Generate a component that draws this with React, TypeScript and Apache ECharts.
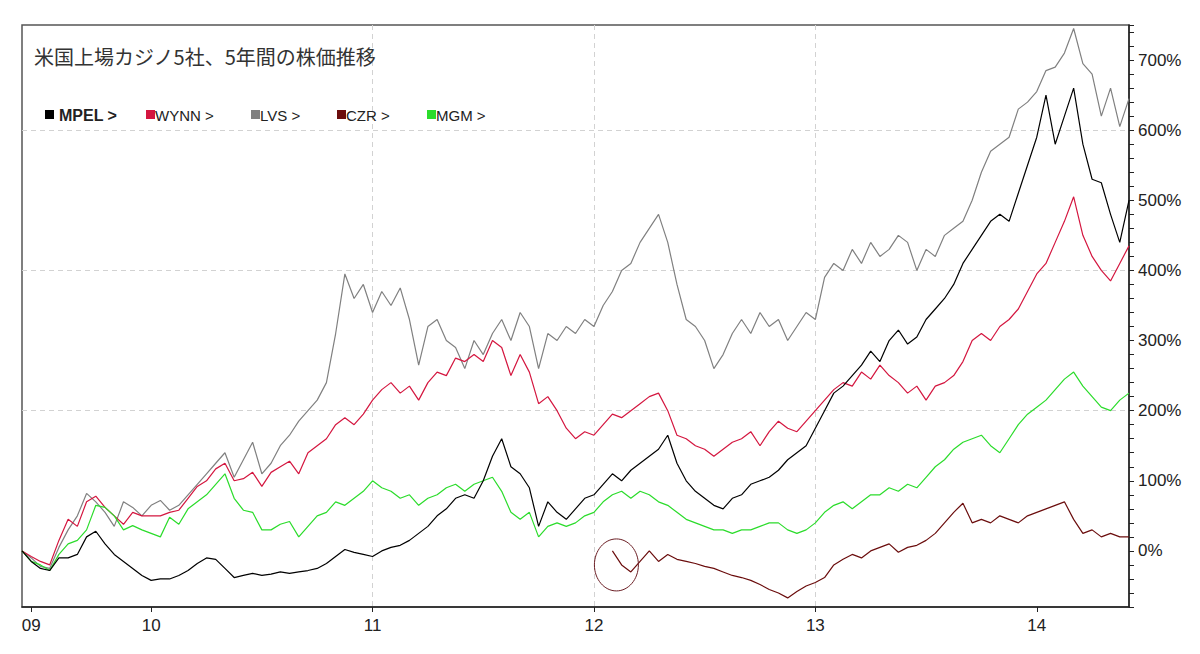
import React, { useEffect, useRef } from "react";
import * as echarts from "echarts";

// ---------- axis categories (half-month grid, Jun 2009 – Jun 2014) ----------
const DATES: string[] = [];
for (let y = 2009; y <= 2014; y++) {
  for (let m = 1; m <= 12; m++) {
    for (const d of ["01", "16"]) {
      const s = `${y}/${String(m).padStart(2, "0")}/${d}`;
      if (s >= "2009/06/01" && s <= "2014/06/01") DATES.push(s);
    }
  }
}

const TITLE = "米国上場カジノ5社、5年間の株価推移";
const TICK_DATES = ["2009/06/16", "2010/01/01", "2011/01/01", "2012/01/01", "2013/01/01", "2014/01/01"];
const TICK_LABELS = ["09", "10", "11", "12", "13", "14"];
const GRID_DATES = ["2011/01/01", "2012/01/01", "2013/01/01"];

const Y_MIN = -80;
const Y_MAX = 750;
const Y_STEP = 20;
const Y_GRID = [200, 400, 600];

// ---------- series values (% change) ----------
const MPEL = [
  0, -15, -25, -28, -10, -10, -5, 20, 28, 10,
  -5, -15, -25, -35, -42, -40, -40, -35, -28, -18,
  -10, -12, -25, -38, -35, -32, -35, -33, -30, -32,
  -30, -28, -25, -18, -8, 2, -2, -5, -8, 0,
  5, 8, 15, 25, 35, 50, 60, 75, 80, 75,
  100, 135, 160, 120, 110, 90, 35, 70, 55, 45,
  60, 75, 80, 95, 110, 100, 115, 125, 135, 145,
  165, 125, 100, 85, 75, 65, 60, 75, 80, 95,
  100, 105, 115, 130, 140, 150, 175, 200, 225, 235,
  250, 265, 285, 270, 300, 315, 295, 305, 330, 345,
  360, 380, 410, 430, 450, 470, 480, 470, 510, 550,
  590, 650, 580, 620, 660, 580, 530, 525, 480, 440,
  500,
];

const WYNN = [
  0, -8, -15, -20, 15, 45, 35, 70, 78, 62,
  50, 38, 55, 50, 50, 50, 55, 58, 75, 92,
  100, 117, 125, 100, 103, 112, 92, 112, 120, 128,
  110, 140, 150, 160, 180, 190, 180, 195, 215, 230,
  240, 225, 235, 215, 240, 255, 250, 275, 270, 280,
  270, 300, 290, 250, 280, 255, 210, 220, 200, 175,
  160, 170, 165, 180, 195, 190, 200, 210, 220, 225,
  200, 165, 160, 150, 145, 135, 145, 155, 160, 170,
  150, 170, 185, 175, 170, 185, 200, 215, 230, 240,
  235, 255, 245, 265, 250, 240, 225, 235, 215, 235,
  240, 250, 270, 300, 310, 300, 320, 330, 345, 370,
  395, 410, 440, 470, 505, 450, 420, 400, 385, 410,
  435,
];

const LVS = [
  0, -10, -22, -25, 5, 30, 50, 82, 70, 55,
  35, 70, 62, 50, 65, 72, 58, 65, 80, 95,
  110, 125, 140, 105, 130, 155, 110, 125, 150, 165,
  185, 200, 215, 240, 310, 395, 360, 380, 340, 370,
  350, 375, 330, 265, 320, 330, 300, 290, 260, 300,
  280, 310, 330, 300, 340, 320, 260, 310, 300, 320,
  310, 330, 320, 350, 370, 400, 410, 440, 460, 480,
  440, 380, 330, 320, 300, 260, 280, 310, 330, 310,
  340, 320, 330, 300, 320, 340, 330, 390, 410, 400,
  430, 410, 440, 420, 430, 450, 440, 400, 430, 420,
  450, 460, 470, 500, 540, 570, 580, 590, 630, 640,
  655, 685, 690, 710, 745, 695, 680, 620, 660, 605,
  645,
];

const CZR_START = "2012/02/01";
const CZR = [
  0, -20, -30, -15, 0, -15, -5, -12, -15, -18,
  -22, -25, -30, -35, -38, -42, -48, -55, -60, -67,
  -58, -50, -45, -38, -20, -12, -5, -10, 0, 5,
  10, -2, 5, 8, 15, 25, 40, 55, 68, 40,
  45, 40, 50, 45, 40, 50, 55, 60, 65, 70,
  45, 25, 30, 20, 25, 20, 20,
];

const MGM = [
  0, -15, -20, -28, -5, 10, 15, 30, 65, 62,
  50, 30, 36, 30, 25, 20, 48, 38, 60, 70,
  80, 95, 110, 75, 58, 55, 30, 30, 38, 42,
  20, 35, 50, 55, 70, 65, 75, 85, 100, 90,
  85, 75, 80, 65, 75, 80, 90, 95, 85, 95,
  100, 105, 85, 55, 45, 55, 20, 35, 40, 35,
  40, 50, 55, 70, 80, 85, 75, 85, 80, 70,
  65, 55, 45, 40, 35, 30, 30, 25, 30, 30,
  35, 40, 40, 30, 25, 30, 40, 55, 65, 70,
  60, 70, 80, 80, 90, 85, 95, 90, 105, 120,
  130, 145, 155, 160, 165, 150, 140, 160, 180, 195,
  205, 215, 230, 245, 255, 235, 220, 205, 200, 215,
  225,
];

const SERIES_NAMES = ["MPEL", "WYNN", "LVS", "CZR", "MGM"];
const CIRCLE_AT = { date: CZR_START, value: -20 };

// ---------- styles ----------
const COLORS: Record<string, string> = {
  MPEL: "#000000",
  WYNN: "#d4163f",
  LVS: "#808080",
  CZR: "#6b0d0d",
  MGM: "#2bdc2b",
};
const LEGEND_RECT_X = [45, 146, 251, 337, 427];
const LEGEND_TEXT_X = [59, 155, 260, 346, 436];

export default function App() {
  const ref = useRef<HTMLDivElement>(null);

  useEffect(() => {
    if (!ref.current) return;
    const chart = echarts.init(ref.current, null, { renderer: "svg" });

    const czrStartIdx = DATES.indexOf(CZR_START);
    const czrFull = (new Array(czrStartIdx).fill(null) as (number | null)[]).concat(CZR);

    const dataByName: Record<string, (number | null)[]> = {
      MPEL,
      WYNN,
      LVS,
      CZR: czrFull,
      MGM,
    };

    const nTicks = Math.round((Y_MAX - Y_MIN) / Y_STEP) + 2;
    const gridIdx = Y_GRID.map((v) => Math.round((v - Y_MIN) / Y_STEP));
    const splitColors = Array.from({ length: nTicks }, (_, i) =>
      gridIdx.includes(i) ? "#d2d2d2" : "rgba(0,0,0,0)"
    );

    const drawOrder = ["LVS", "WYNN", "MGM", "CZR", "MPEL"];

    chart.setOption({
      animation: false,
      backgroundColor: "#ffffff",
      grid: {
        left: 22,
        right: 71,
        top: 25,
        bottom: 47,
        show: true,
        borderColor: "#555",
        borderWidth: 1.5,
        backgroundColor: "rgba(0,0,0,0)",
      },
      xAxis: {
        type: "category",
        data: DATES,
        boundaryGap: false,
        axisLine: { show: true, onZero: false, lineStyle: { color: "#222", width: 1.5 } },
        axisTick: {
          show: true,
          length: 5,
          interval: (_i: number, v: string) => TICK_DATES.includes(v),
          lineStyle: { color: "#222" },
        },
        axisLabel: {
          interval: (_i: number, v: string) => TICK_DATES.includes(v),
          formatter: (v: string) => {
            const k = TICK_DATES.indexOf(v);
            return k >= 0 ? TICK_LABELS[k] : "";
          },
          color: "#222",
          fontSize: 17,
          fontFamily: "'Liberation Sans Narrow', 'Liberation Sans', Arial, sans-serif",
          margin: 10,
        },
        splitLine: {
          show: true,
          interval: (_i: number, v: string) => GRID_DATES.includes(v),
          lineStyle: { color: "#d2d2d2", type: [5, 4], width: 1 },
        },
      },
      yAxis: {
        type: "value",
        position: "right",
        min: Y_MIN,
        max: Y_MAX,
        interval: Y_STEP,
        axisLine: { show: true, onZero: false, lineStyle: { color: "#222", width: 1.5 } },
        axisTick: { show: true, length: 5, lineStyle: { color: "#222" } },
        axisLabel: {
          formatter: (v: number) => (v % 100 === 0 ? `${v}%` : ""),
          color: "#222",
          fontSize: 17,
          fontFamily: "'Liberation Sans', Arial, sans-serif",
          margin: 9,
        },
        splitLine: {
          show: true,
          lineStyle: { color: splitColors, type: [5, 4], width: 1 },
        },
      },
      series: drawOrder.map((name) => ({
        name,
        type: "line",
        data: dataByName[name],
        showSymbol: false,
        symbol: "none",
        connectNulls: false,
        lineStyle: { color: COLORS[name], width: 1.2 },
        itemStyle: { color: COLORS[name] },
        silent: true,
      })),
    });

    const [cx, cy] = chart.convertToPixel({ gridIndex: 0 }, [CIRCLE_AT.date, CIRCLE_AT.value]) as number[];

    const legendEls: any[] = [];
    SERIES_NAMES.forEach((name, i) => {
      legendEls.push({
        type: "rect",
        id: `lg-r-${name}`,
        shape: { x: LEGEND_RECT_X[i], y: 110, width: 9, height: 9 },
        style: { fill: COLORS[name] },
        silent: true,
      });
      legendEls.push({
        type: "text",
        id: `lg-t-${name}`,
        style: {
          x: LEGEND_TEXT_X[i],
          y: 115,
          text: `${name} >`,
          fill: "#222",
          font: name === "MPEL" ? "bold 16px 'Liberation Sans', Arial, sans-serif" : "15px 'Liberation Sans', Arial, sans-serif",
          verticalAlign: "middle",
          align: "left",
        },
        silent: true,
      });
    });

    chart.setOption({
      graphic: [
        {
          type: "text",
          id: "title",
          style: {
            x: 34,
            y: 56,
            text: TITLE,
            fill: "#333",
            font: "20px 'Noto Sans CJK JP', sans-serif",
            verticalAlign: "middle",
            align: "left",
          },
          silent: true,
        },
        ...legendEls,
        {
          type: "ellipse",
          id: "circle",
          shape: { cx: cx + 4, cy, rx: 22, ry: 26 },
          style: { fill: "none", stroke: "#6b1e24", lineWidth: 1 },
          silent: true,
          z: 100,
        },
      ],
    });

    return () => chart.dispose();
  }, []);

  return (
    <div
      ref={ref}
      style={{ position: "fixed", left: 0, top: 0, width: 1200, height: 654, background: "#fff" }}
    />
  );
}
